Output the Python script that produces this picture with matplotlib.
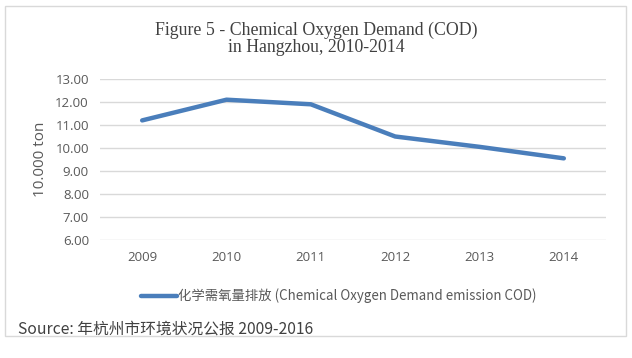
import matplotlib.pyplot as plt
from matplotlib.patches import Rectangle

years = ["2009", "2010", "2011", "2012", "2013", "2014"]
cod = [11.2, 12.1, 11.9, 10.5, 10.05, 9.55]
y_ticks = [6, 7, 8, 9, 10, 11, 12, 13]

W, H = 632, 358
fig = plt.figure(figsize=(W / 100, H / 100), dpi=100)

# chart border
fig.patches.append(Rectangle((5 / W, 1 - 336 / H), 621 / W, 330 / H,
                             transform=fig.transFigure, fill=False,
                             edgecolor="#d9d9d9", linewidth=1))

ax = fig.add_axes([100 / W, 1 - 240 / H, 506 / W, 161 / H])
x = range(len(years))
ax.plot(x, cod, color="#4a7ebb", linewidth=3.2, solid_capstyle="round",
        label="化学需氧量排放 (Chemical Oxygen Demand emission COD)")
ax.set_xlim(-0.5, len(years) - 0.5)
ax.set_ylim(6, 13)
ax.set_yticks(y_ticks)
ax.set_yticklabels([f"{v:.2f}" for v in y_ticks])
ax.set_xticks(list(x))
ax.set_xticklabels(years)
ax.grid(axis="y", color="#d9d9d9", linewidth=1)
ax.set_axisbelow(True)
for s in ax.spines.values():
    s.set_visible(False)
ax.tick_params(length=0, colors="#595959", labelsize=9.5, pad=8)
for lab in ax.get_xticklabels() + ax.get_yticklabels():
    lab.set_family(["Open Sans", "DejaVu Sans"])
ax.set_ylabel("10.000 ton", color="#595959", fontsize=11,
              family=["Open Sans", "DejaVu Sans"], labelpad=5)

fig.text(316 / W, 1 - 30 / H, "Figure 5 - Chemical Oxygen Demand (COD)",
         ha="center", va="center", fontsize=12.8, color="#404040",
         family="Liberation Serif")
fig.text(316 / W, 1 - 48 / H, "in Hangzhou, 2010-2014",
         ha="center", va="center", fontsize=12.8, color="#404040",
         family="Liberation Serif")

leg = fig.legend(loc="center", bbox_to_anchor=(339 / W, 1 - 296 / H),
                 frameon=False, handlelength=2.7, handletextpad=0.1,
                 prop={"family": ["Noto Sans CJK SC", "DejaVu Sans"], "size": 9.6})
for t in leg.get_texts():
    t.set_color("#595959")

fig.text(18 / W, 1 - 329 / H, "Source: 年杭州市环境状况公报 2009-2016",
         ha="left", va="center", fontsize=11.3, color="#404040",
         family=["Noto Sans CJK SC", "DejaVu Sans"])

fig.savefig("out.png", dpi=100)
